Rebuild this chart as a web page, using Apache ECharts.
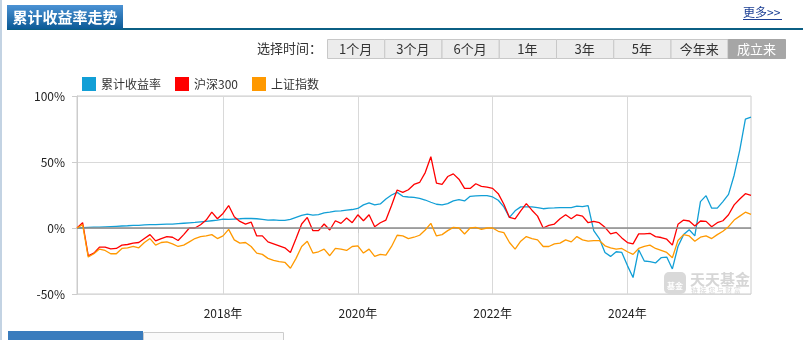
<!DOCTYPE html>
<html>
<head>
<meta charset="utf-8">
<script src="https://cdn.jsdelivr.net/npm/echarts@6/dist/echarts.min.js"></script>
<style>
html,body{margin:0;padding:0;background:#fff;}
#chart{width:803px;height:340px;}
</style>
</head>
<body>
<div id="chart"></div>
<script>
// ---- data ----
var startYear = 2015, startMonth = 11, monthCount = 121;
var categories = [];
for (var i = 0; i < monthCount; i++) {
  var m = startMonth - 1 + i;
  var y = startYear + Math.floor(m / 12);
  var mm = (m % 12) + 1;
  categories.push(y + '-' + (mm < 10 ? '0' + mm : mm));
}
var yearTicks = ['2018-01', '2020-01', '2022-01', '2024-01'];
var yTickLabels = ['-50%', '0%', '50%', '100%'];

var fundReturn = [
  0, 0.2, 0.4, 0.6, 0.7, 0.9, 1.1, 1.3, 1.5, 1.7,
  2.0, 2.0, 2.3, 2.5, 2.6, 2.8, 2.9, 3.0, 3.3, 3.6,
  3.9, 4.2, 4.6, 5.0, 5.5, 6.0, 6.8, 6.5, 6.8, 7.0,
  7.3, 7.2, 7.0, 6.6, 6.0, 6.2, 5.8, 5.8, 6.5, 8.0,
  9.5, 10.5, 9.8, 10.2, 11.5, 12.0, 12.8, 13.0, 13.5, 14.0,
  14.8, 17.5, 19.0, 17.5, 18.2, 22.0, 25.0, 27.0, 24.0, 23.5,
  23.2, 22.5, 21.2, 19.5, 18.0, 17.5, 18.5, 20.5, 21.5, 20.5,
  24.0, 24.3, 24.5, 24.5, 23.5, 21.0, 16.0, 8.0, 13.0, 16.0,
  16.0, 16.0, 15.5, 14.6, 15.0, 15.2, 15.5, 15.5, 15.5, 16.5,
  16.2, 17.0, -2.0, -8.0, -18.5, -21.5, -18.0, -18.5, -28.5, -37.5,
  -16.5, -25.0, -25.5, -26.5, -22.5, -22.0, -31.0, -14.0, -5.0, -1.3,
  -6.0, 20.0, 24.5, 15.0, 15.0, 20.0, 25.5, 40.0, 59.0, 82.5,
  84.0
];
var hs300 = [
  0, 4, -21, -19, -14.5, -14.5, -15.8, -15.5, -13, -12.5,
  -11.5, -11, -8, -5, -9.8, -8, -6.5, -7, -9.5, -5,
  0, 0, 2.5, 6, 12, 7, 11, 17, 8.5, 5,
  3, 4.5, -6, -6, -10.5, -12, -13.5, -15, -18.5, -8,
  3, 8, -2, -2, 3, -1.5, 5.5, 3.5, 7.6, 4,
  10, 5.5, 10, 1, 4, 6, 17, 28.8, 27, 29,
  33, 34.5, 42, 54, 34, 33, 39, 41, 37, 30,
  30, 33.5, 31.5, 31, 30, 26, 18, 8, 7, 13,
  18.5, 13.5, 9, 0, 2, 3, 7, 10, 7, 10,
  9, 4, 5, 4, 0.5, -4.5, -3.3, -7.5, -11, -12,
  -4.5, -4.5, -4, -6.5, -7.2, -8.5, -13, 2.8, 6, 5.3,
  1.5, 5.3, 5, 1, 4, 5.5, 10, 17.5, 22, 26,
  24.8
];
var shIndex = [
  0, 2.5, -22, -19.5, -16, -17, -19.5, -19.5, -15.5, -15,
  -14, -15, -11, -8, -13, -11, -10.5, -12, -14, -13,
  -10.5, -8, -6.5, -6, -5, -8, -6, -1, -9, -11.5,
  -11, -14, -19, -20, -23, -24.5, -25.5, -26, -30.5, -23,
  -14, -10, -19, -18, -16, -21, -15.5, -16, -17, -14,
  -13.5, -19, -16, -21.5, -20, -20.5, -14, -5.5, -6, -8,
  -7, -5.5, -1.5, 3.5, -6, -5, -2, 0.5, 0, -4.5,
  0, 0.5, -1, 0, 0, -2.5, -3.5, -11, -16, -10,
  -6.5, -8, -9, -14, -14, -12, -11.5, -9, -10.5, -6.5,
  -9, -10, -9.5, -9.5, -13.5, -15, -16, -15.5, -18, -20,
  -15.5, -14, -13, -15.5, -17, -18.5, -22.5, -9.5, -5, -6,
  -10, -7, -6, -8, -5, -2.5, 1, 6, 9, 12,
  10.3
];
var seriesNames = ['累计收益率', '沪深300', '上证指数'];
var seriesColors = ['#129fd6', '#ff0000', '#ff9900'];
var periodButtons = ['1个月', '3个月', '6个月', '1年', '3年', '5年', '今年来', '成立来'];
var activeButton = '成立来';
var headerTitle = '累计收益率走势';
var moreLink = '更多>>';
var selectLabel = '选择时间：';

// ---- chart ----
var FONT = '"Microsoft YaHei","Noto Sans CJK SC",sans-serif';
var chart = echarts.init(document.getElementById('chart'), null, {renderer: 'canvas'});

function isYearTick(idx, val) {
  return yearTicks.indexOf(categories[idx]) >= 0;
}

var graphics = [];
// left border
graphics.push({type: 'rect', left: 0, top: 0, shape: {width: 2, height: 340}, style: {fill: '#c3d3e3'}, silent: true});
// header bottom line
graphics.push({type: 'rect', left: 7, top: 28, shape: {width: 796, height: 2}, style: {fill: '#0b5f84'}, silent: true});
// title box
graphics.push({
  type: 'rect', left: 7, top: 5, shape: {width: 116, height: 24},
  style: {fill: new echarts.graphic.LinearGradient(0, 0, 0, 1, [
    {offset: 0, color: '#4b92d4'}, {offset: 1, color: '#0c5a96'}
  ])}, silent: true
});
graphics.push({
  type: 'text', x: 65, y: 17,
  style: {text: headerTitle, fill: '#ffffff', font: 'bold 15px ' + FONT, align: 'center', verticalAlign: 'middle'},
  silent: true
});
// more link
graphics.push({
  type: 'text', x: 743, y: 12,
  style: {text: moreLink, fill: '#1c3f94', font: '12px ' + FONT, align: 'left', verticalAlign: 'middle'},
  silent: true
});
graphics.push({type: 'rect', left: 743, top: 19, shape: {width: 39, height: 1}, style: {fill: '#1c3f94'}, silent: true});
// select label
graphics.push({
  type: 'text', x: 322, y: 48,
  style: {text: selectLabel, fill: '#333', font: '13px ' + FONT, align: 'right', verticalAlign: 'middle'},
  silent: true
});
// buttons
var btnLeft = 327, btnW = 57.25, btnTop = 39, btnH = 19;
periodButtons.forEach(function (name, k) {
  var active = name === activeButton;
  var x0 = btnLeft + k * btnW;
  graphics.push({
    type: 'rect', x: x0 + 0.5, y: btnTop + 0.5,
    shape: {width: btnW, height: btnH},
    style: {fill: active ? '#a6a6a6' : '#ececec', stroke: active ? '#a6a6a6' : '#c8c8c8', lineWidth: 1},
    silent: true
  });
  graphics.push({
    type: 'text', x: x0 + btnW / 2, y: btnTop + btnH / 2 + 1,
    style: {text: name, fill: active ? '#ffffff' : '#333333', font: '13px ' + FONT, align: 'center', verticalAlign: 'middle'},
    silent: true
  });
});
// watermark
graphics.push({type: 'rect', x: 664, y: 272, shape: {width: 22, height: 22, r: 5}, style: {fill: '#d9d9d9'}, silent: true, z: 0});
graphics.push({type: 'text', x: 675, y: 286, style: {text: '基金', fill: '#ffffff', font: 'bold 8px ' + FONT, align: 'center', verticalAlign: 'middle'}, silent: true, z: 0});
graphics.push({type: 'text', x: 690, y: 279, style: {text: '天天基金', fill: '#d6d6d6', font: 'bold 15px ' + FONT, align: 'left', verticalAlign: 'middle'}, silent: true, z: 0});
graphics.push({type: 'text', x: 691, y: 290, style: {text: '链 接 您 与 财 富', fill: '#d6d6d6', font: '7px ' + FONT, align: 'left', verticalAlign: 'middle'}, silent: true, z: 0});
// bottom tabs
graphics.push({type: 'rect', x: 8, y: 331, shape: {width: 135, height: 9}, style: {fill: '#3a7cbd'}, silent: true});
graphics.push({type: 'rect', x: 143.5, y: 332.5, shape: {width: 140, height: 10}, style: {fill: '#fafafa', stroke: '#cccccc', lineWidth: 1}, silent: true});

var dataSets = [fundReturn, hs300, shIndex];
var series = seriesNames.map(function (name, k) {
  var s = {
    name: name, type: 'line', data: dataSets[k],
    showSymbol: false, symbol: 'none', smooth: false,
    lineStyle: {width: 1.3, color: seriesColors[k]},
    itemStyle: {color: seriesColors[k]},
    z: 3 + k
  };
  return s;
});
series.push({
  name: 'zero', type: 'line', data: [], silent: true, z: 2,
  markLine: {
    silent: true, symbol: 'none', label: {show: false},
    lineStyle: {color: '#8c8c8c', width: 1.5, type: 'solid'},
    data: [{yAxis: 0}]
  }
});

var option = {
  animation: false,
  backgroundColor: '#ffffff',
  textStyle: {fontFamily: FONT},
  graphic: graphics,
  legend: {
    data: seriesNames.map(function (n, k) { return {name: n, icon: 'rect'}; }),
    left: 77, top: 72, itemWidth: 14, itemHeight: 14, itemGap: 14,
    textStyle: {fontSize: 12, color: '#333', fontFamily: FONT}
  },
  grid: {left: 77, right: 52, top: 96, bottom: 46, show: true, borderColor: '#cccccc', borderWidth: 1, backgroundColor: 'transparent'},
  xAxis: {
    type: 'category', data: categories, boundaryGap: false,
    axisLine: {lineStyle: {color: '#cccccc'}},
    axisTick: {show: true, interval: isYearTick, length: 5, lineStyle: {color: '#cccccc'}},
    axisLabel: {
      interval: isYearTick, margin: 13, fontSize: 12, color: '#222', fontFamily: FONT,
      formatter: function (v) { return v.slice(0, 4) + '年'; }
    },
    splitLine: {show: true, interval: isYearTick, lineStyle: {color: '#d9d9d9'}}
  },
  yAxis: {
    type: 'value', min: -50, max: 100, interval: 50,
    axisLine: {show: true, lineStyle: {color: '#cccccc'}},
    axisTick: {show: true, length: 5, lineStyle: {color: '#cccccc'}},
    axisLabel: {margin: 12, fontSize: 12, color: '#222', fontFamily: FONT, formatter: function (v) { return v + '%'; }},
    splitLine: {lineStyle: {color: '#d9d9d9'}}
  },
  series: series
};
chart.setOption(option);
</script>
</body>
</html>
